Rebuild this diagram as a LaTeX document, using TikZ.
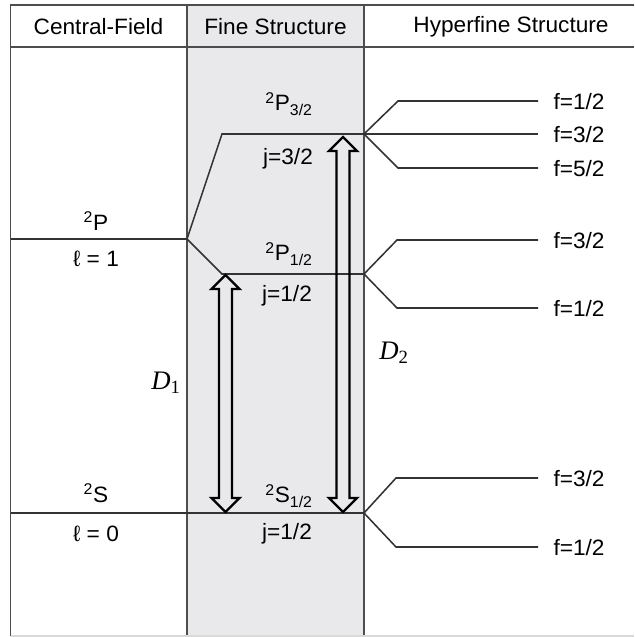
\documentclass[tikz,border=0pt]{standalone}
\usepackage{fontspec}
\setmainfont{Liberation Sans}
\newfontfamily\lblfont[FakeStretch=1.02]{Liberation Sans}
\newfontfamily\dfont{Liberation Serif}
\usetikzlibrary{calc}
\definecolor{finegris}{HTML}{E9E9EB}
\definecolor{rejilla}{HTML}{4D4D4D}
\definecolor{nivel}{HTML}{333333}
% hollow double arrow between two tips
\newcommand{\hollowarrow}[2]{%
  \draw[dflecha] (#1) -- ++(14,14) -- ++(-7.5,0) -- ($(#2)+(6.5,-14)$) -- ++(7.5,0)
    -- (#2) -- ++(-14,-14) -- ++(7.5,0) -- ($(#1)+(-6.5,14)$) -- ++(-7.5,0) -- cycle;}
\newcommand{\dlabel}[1]{{\dfont\itshape D}{\dfont\textsubscript{#1}}}

\begin{document}
\begin{tikzpicture}[x=0.025cm, y=-0.025cm,
      font=\lblfont\fontsize{15.8}{18}\selectfont,
      lbl/.style={inner sep=0pt},
      flbl/.style={anchor=west, inner sep=0pt, xshift=10.5pt, text depth=0pt},
      grid/.style={draw=rejilla, line width=1.1pt},
      level/.style={draw=nivel, line width=1.1pt},
      dflecha/.style={draw=black, line width=1.7pt, line join=miter}]
    \useasboundingbox (0,0) rectangle (634,637);
    \fill[finegris] (187,5) rectangle (364,636);
    \draw[grid] (634,5) -- (10.5,5) -- (10.5,636);
    \draw[grid] (10.5,47) -- (634,47);
    \draw[grid] (187,5) -- (187,636); \draw[grid] (364,5) -- (364,636);
    \draw[draw=black!15, line width=0.8pt] (10.5,636) -- (634,636);

    \node[lbl] (hcf) at (98.5,27) {Central-Field};
    \node[lbl] (hfs) at (275.5,27) {Fine Structure};
    \node[lbl] (hhf) at (511,27) {Hyperfine Structure};

    % central field
    \coordinate (cfP) at (10.5,239); \coordinate (splitP) at (187,239);
    \coordinate (cfS) at (10.5,513); \coordinate (fsS) at (364,513);
    \node[lbl] (tP) at (96,221) {\textsuperscript{2}P};
    \node[lbl] (l1) at (96,259) {ℓ = 1};
    \node[lbl] (tS) at (96,493) {\textsuperscript{2}S};
    \node[lbl] (l0) at (96,534) {ℓ = 0};
    \draw[level] (cfP) -- (splitP);
    \draw[level] (cfS) -- (fsS);

    % fine structure
    \coordinate (fsP3) at (364,134); \coordinate (fsP1) at (364,274);
    \draw[level] (splitP) -- (222,134) -- (fsP3);
    \draw[level] (splitP) -- (222,274) -- (fsP1);
    \node[lbl] (tP32) at (289,104) {\textsuperscript{2}P\textsubscript{3/2}};
    \node[lbl] (j32) at (288,159) {j=3/2};
    \node[lbl] (tP12) at (289,254) {\textsuperscript{2}P\textsubscript{1/2}};
    \node[lbl] (j12a) at (287,296) {j=1/2};
    \node[lbl] (tS12) at (289,496) {\textsuperscript{2}S\textsubscript{1/2}};
    \node[lbl] (j12b) at (287,534) {j=1/2};

    % hyperfine structure
    \foreach \dy/\f in {-33/{1/2}, 0/{3/2}, 34/{5/2}}
      \draw[level] (fsP3) -- ++(34,\dy) -- ++(140,0) node[flbl] {f=\f};
    \foreach \dy/\f in {-34/{3/2}, 34/{1/2}}
      \draw[level] (fsP1) -- ++(33,\dy) -- ++(141,0) node[flbl] {f=\f};
    \foreach \dy/\f in {-35/{3/2}, 34/{1/2}}
      \draw[level] (fsS) -- ++(32,\dy) -- ++(142,0) node[flbl] {f=\f};

    % transitions
    \coordinate (d1a) at (225.5,275); \coordinate (d1b) at (225.5,512);
    \coordinate (d2a) at (343,137); \coordinate (d2b) at (343,512);
    \hollowarrow{d1a}{d1b}
    \hollowarrow{d2a}{d2b}
    \node[lbl, font=\fontsize{19}{22}\selectfont] (D1) at (166,383) {\dlabel{1}};
    \node[lbl, font=\fontsize{19}{22}\selectfont] (D2) at (394,353) {\dlabel{2}};
  \end{tikzpicture}
\end{document}
